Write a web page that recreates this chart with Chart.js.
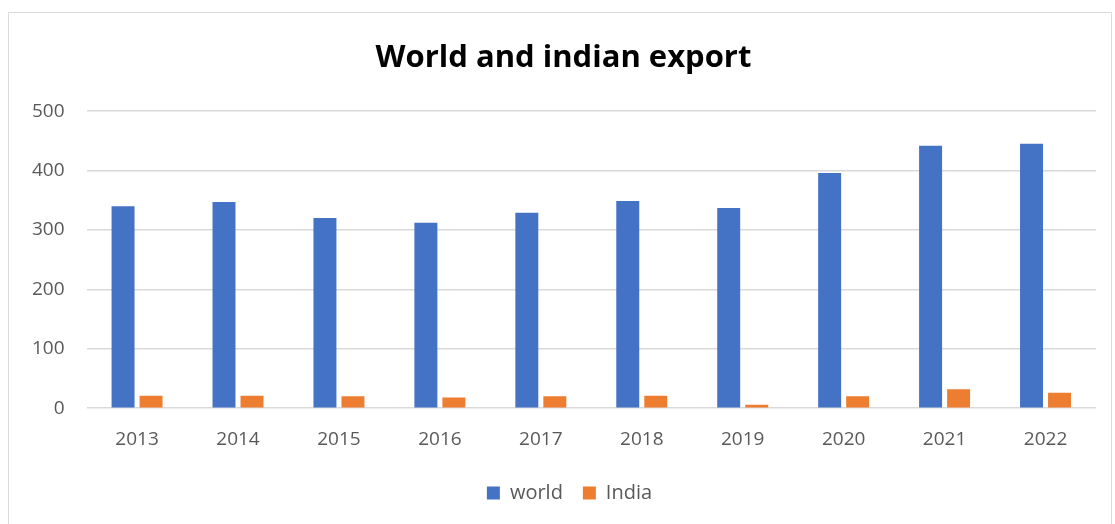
<!DOCTYPE html>
<html>
<head>
<meta charset="utf-8">
<script src="https://cdn.jsdelivr.net/npm/chart.js@4/dist/chart.umd.min.js"></script>
<style>
  html, body { margin: 0; padding: 0; background: #fff; }
  #wrap { position: relative; width: 1115px; height: 524px; overflow: hidden; }
  #frame { position: absolute; left: 8px; top: 12px; width: 1104px; height: 530px; border: 1px solid #d9d9d9; box-sizing: border-box; }
  canvas { position: absolute; left: 0; top: 0; }
</style>
</head>
<body>
<div id="wrap">
  <div id="frame"></div>
  <canvas id="chart" width="1115" height="524"></canvas>
</div>
<script>
// --- data ------------------------------------------------------------
const years = ['2013', '2014', '2015', '2016', '2017', '2018', '2019', '2020', '2021', '2022'];
const world = [340, 347, 320, 312, 329, 349, 337, 396, 442, 445];
const india = [21, 21, 20, 18, 20, 21, 6, 20, 32, 26];

const FONT = "'Open Sans', 'Noto Sans', sans-serif";
const TEXT = '#595959';

// title and legend are centred on the whole frame, not on the plot box
const centreOnFrame = {
  id: 'centreOnFrame',
  afterLayout(chart) {
    const shift = (chart.width / 2) - (chart.titleBlock.left + chart.titleBlock.right) / 2 + 6;
    chart.titleBlock.left += shift;
    chart.titleBlock.right += shift;
    chart.legend.left += shift + 6;
    chart.legend.right += shift + 6;
  }
};

new Chart(document.getElementById('chart').getContext('2d'), {
  type: 'bar',
  data: {
    labels: years,
    datasets: [
      { label: 'world', data: world, backgroundColor: '#4472C4' },
      { label: 'India', data: india, backgroundColor: '#ED7D31' }
    ]
  },
  options: {
    responsive: false,
    animation: false,
    categoryPercentage: 0.555,
    barPercentage: 0.82,
    layout: { padding: { left: 10, right: 19, top: 40, bottom: 11 } },
    plugins: {
      title: {
        display: true,
        text: 'World and indian export',
        color: '#000',
        font: { family: FONT, size: 31, weight: 'bold' },
        padding: { top: 0, bottom: 34 }
      },
      legend: {
        position: 'bottom',
        labels: {
          color: TEXT,
          font: { family: FONT, size: 20 },
          boxWidth: 13,
          boxHeight: 13,
          padding: 20
        }
      },
      tooltip: { enabled: false }
    },
    scales: {
      x: {
        grid: { display: false },
        border: { display: false },
        ticks: { color: TEXT, font: { family: FONT, size: 19 }, padding: 12 }
      },
      y: {
        min: 0, max: 500,
        ticks: { stepSize: 100, color: TEXT, font: { family: FONT, size: 19 }, padding: 22 },
        grid: { color: '#d9d9d9', lineWidth: 1.5, drawTicks: false },
        border: { display: false }
      }
    }
  },
  plugins: [centreOnFrame]
});
</script>
</body>
</html>
